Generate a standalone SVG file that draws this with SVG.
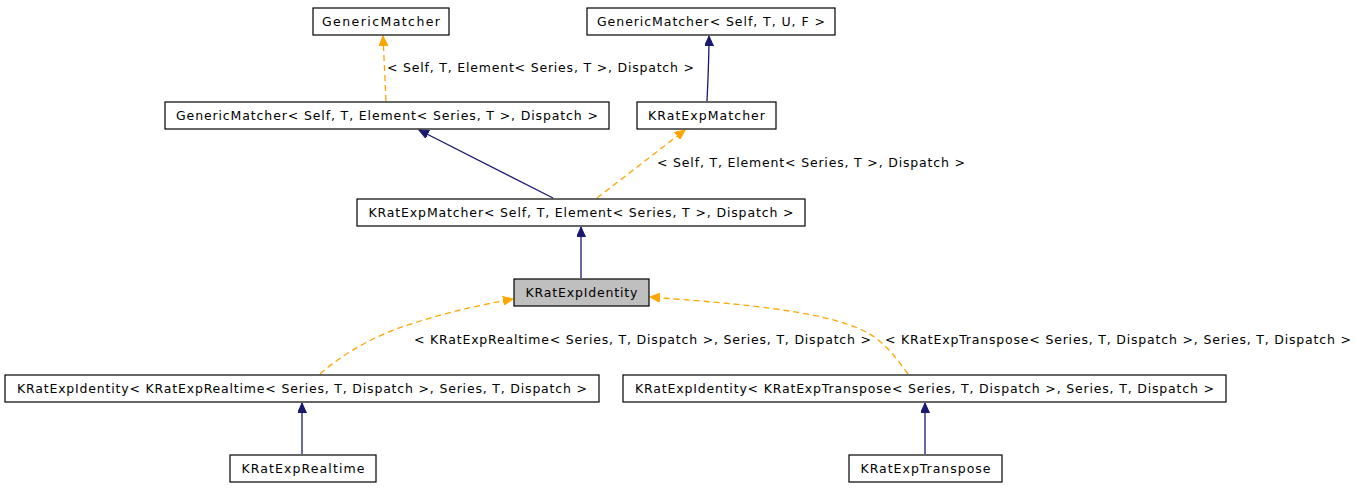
<svg xmlns="http://www.w3.org/2000/svg" width="1357" height="488" viewBox="0 0 1357 488">
<style>
.n rect{fill:#fff;stroke:#000;stroke-width:1.2}
.n.g rect{fill:#bfbfbf}
text{font-family:"DejaVu Sans","Liberation Sans",sans-serif;font-size:12.5px;fill:#000}
.n text{text-anchor:middle}
.e{fill:none;stroke:#191970;stroke-width:1.3}
.d{fill:none;stroke:#ffa500;stroke-width:1.3;stroke-dasharray:6,4}
</style>
<defs>
<marker id="an" markerUnits="userSpaceOnUse" markerWidth="11" markerHeight="9" refX="10" refY="4.5" orient="auto"><path d="M0,0 L10,4.5 L0,9 z" fill="#191970" stroke="#191970" stroke-width="1"/></marker>
<marker id="ao" markerUnits="userSpaceOnUse" markerWidth="11" markerHeight="9" refX="10" refY="4.5" orient="auto"><path d="M0,0 L10,4.5 L0,9 z" fill="#ffa500" stroke="#ffa500" stroke-width="1"/></marker>
</defs>
<rect width="1357" height="488" fill="#fff"/>
<g id="edges">
<path class="d" d="M386,101 L383,36" marker-end="url(#ao)"/>
<text x="387" y="72" textLength="307">&lt; Self, T, Element&lt; Series, T &gt;, Dispatch &gt;</text>
<path class="e" d="M707,101 C708,80 709,60 709,36" marker-end="url(#an)"/>
<path class="e" d="M553,198 L419,130" marker-end="url(#an)"/>
<path class="d" d="M597,198 L685,130" marker-end="url(#ao)"/>
<text x="657" y="167" textLength="308">&lt; Self, T, Element&lt; Series, T &gt;, Dispatch &gt;</text>
<path class="e" d="M581,278 L581,227" marker-end="url(#an)"/>
<path class="d" d="M320,374 C345,352 375,336 405,326 C440,314 475,306 513,299" marker-end="url(#ao)"/>
<text x="414" y="344" textLength="457">&lt; KRatExpRealtime&lt; Series, T, Dispatch &gt;, Series, T, Dispatch &gt;</text>
<path class="d" d="M908,374 C896,358 884,340 862,330 C820,310 730,303 650,297" marker-end="url(#ao)"/>
<text x="885" y="344" textLength="466">&lt; KRatExpTranspose&lt; Series, T, Dispatch &gt;, Series, T, Dispatch &gt;</text>
<path class="e" d="M302,454 L302,403" marker-end="url(#an)"/>
<path class="e" d="M925,454 L925,403" marker-end="url(#an)"/>
</g>
<g id="n1" class="n"><rect x="313" y="8" width="136" height="27"/><text x="381" y="26" textLength="118">GenericMatcher</text></g>
<g id="n2" class="n"><rect x="587" y="8" width="248" height="27"/><text x="711" y="26" textLength="228">GenericMatcher&lt; Self, T, U, F &gt;</text></g>
<g id="n3" class="n"><rect x="165" y="102" width="444" height="27"/><text x="387" y="120" textLength="422">GenericMatcher&lt; Self, T, Element&lt; Series, T &gt;, Dispatch &gt;</text></g>
<g id="n4" class="n"><rect x="637" y="102" width="139" height="27"/><text x="706.5" y="120" textLength="117">KRatExpMatcher</text></g>
<g id="n5" class="n"><rect x="357" y="199" width="448" height="27"/><text x="581" y="217" textLength="425">KRatExpMatcher&lt; Self, T, Element&lt; Series, T &gt;, Dispatch &gt;</text></g>
<g id="n6" class="n g"><rect x="514" y="279" width="135" height="27"/><text x="581.5" y="297" textLength="112">KRatExpIdentity</text></g>
<g id="n7" class="n"><rect x="5" y="375" width="594" height="27"/><text x="302" y="393" textLength="570">KRatExpIdentity&lt; KRatExpRealtime&lt; Series, T, Dispatch &gt;, Series, T, Dispatch &gt;</text></g>
<g id="n8" class="n"><rect x="623" y="375" width="603" height="27"/><text x="924.5" y="393" textLength="579">KRatExpIdentity&lt; KRatExpTranspose&lt; Series, T, Dispatch &gt;, Series, T, Dispatch &gt;</text></g>
<g id="n9" class="n"><rect x="230" y="455" width="146" height="27"/><text x="303" y="473" textLength="123">KRatExpRealtime</text></g>
<g id="n10" class="n"><rect x="849" y="455" width="153" height="27"/><text x="925.5" y="473" textLength="130">KRatExpTranspose</text></g>
</svg>
